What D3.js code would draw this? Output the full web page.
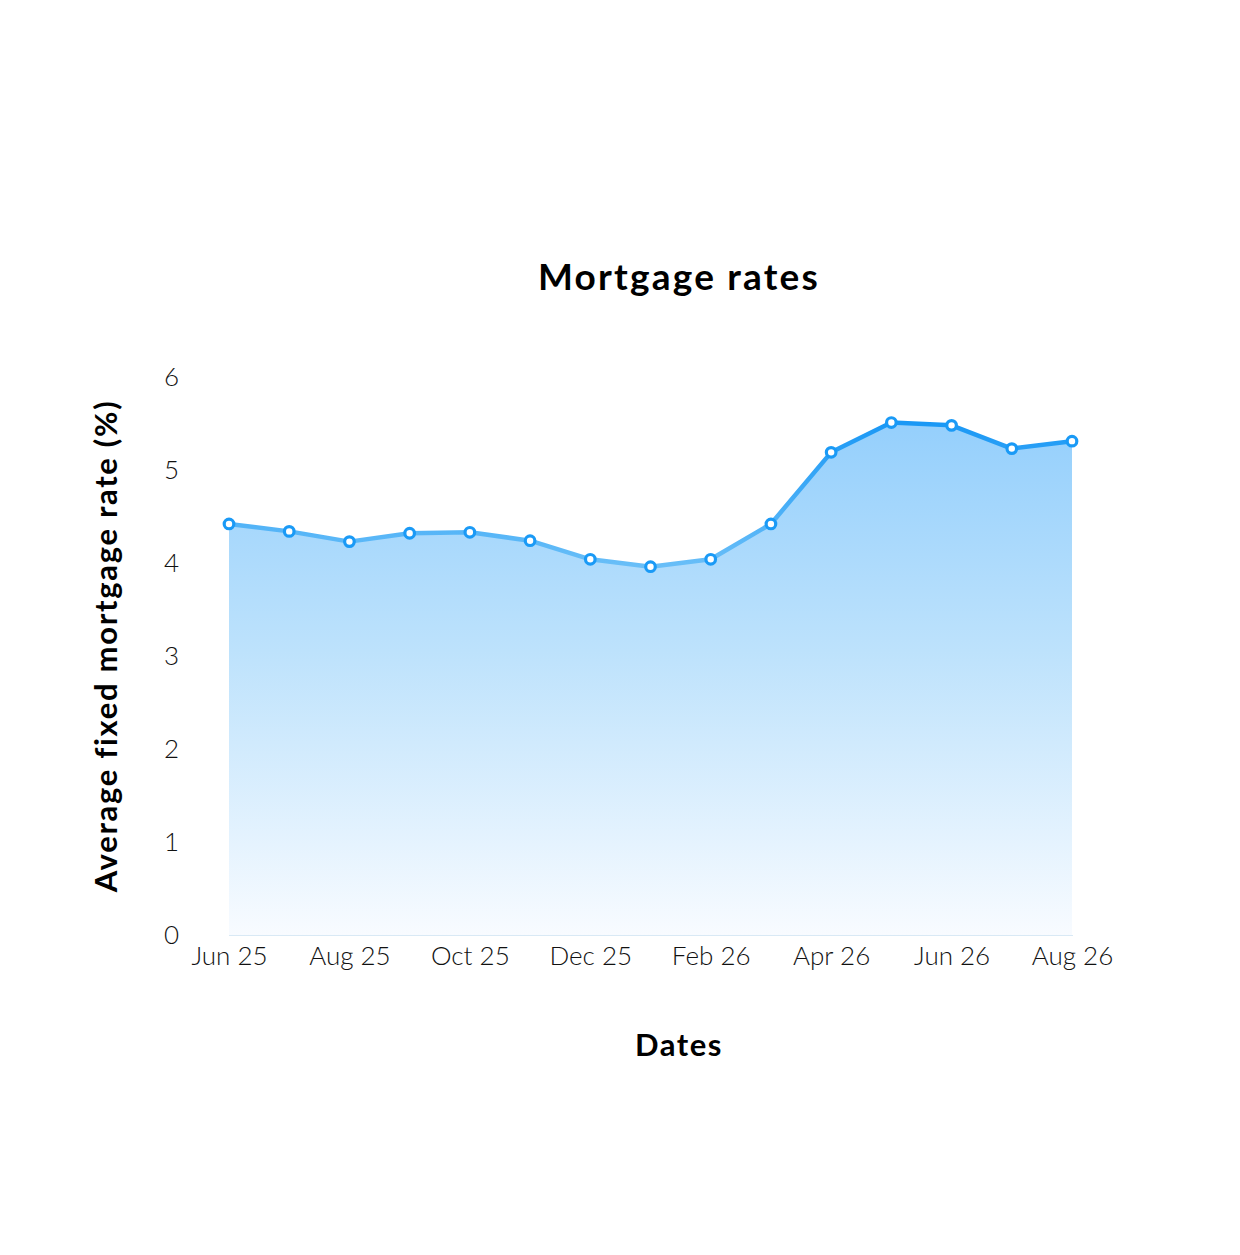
<!DOCTYPE html>
<html>
<head>
<meta charset="utf-8">
<script src="https://cdn.jsdelivr.net/npm/d3@7"></script>
<style>
    body { margin: 0; background: #fff; }
    .tick text { font-family: Lato, "Open Sans", sans-serif; font-weight: 300; fill: #111; }
</style>
</head>
<body>
<script>
//chart data
var months = ["Jun 25", "Jul 25", "Aug 25", "Sep 25", "Oct 25", "Nov 25", "Dec 25",
    "Jan 26", "Feb 26", "Mar 26", "Apr 26", "May 26", "Jun 26", "Jul 26", "Aug 26"];
var rates = [4.42, 4.34, 4.23, 4.32, 4.33, 4.24, 4.04, 3.96, 4.04, 4.42, 5.19, 5.51, 5.48, 5.23, 5.31];
var xTickLabels = ["Jun 25", "Aug 25", "Oct 25", "Dec 25", "Feb 26", "Apr 26", "Jun 26", "Aug 26"];
var yTickValues = [0, 1, 2, 3, 4, 5, 6];

window.onload = drawChart();

function drawChart(){
    var width = 1240,
        height = 1255;

    var svg = d3.select("body")
        .append("svg")
        .attr("width", width)
        .attr("height", height);

    var data = months.map(function(m, i){ return {month: m, rate: rates[i]}; });

    //scales
    var x = d3.scalePoint()
        .domain(months)
        .range([229, 1072]);

    var y = d3.scaleLinear()
        .domain([0, 6])
        .range([935, 377]);

    //gradients
    var defs = svg.append("defs");
    var areaGrad = defs.append("linearGradient")
        .attr("id", "areaGrad")
        .attr("gradientUnits", "userSpaceOnUse")
        .attr("x1", 0).attr("x2", 0)
        .attr("y1", y(5.55)).attr("y2", y(0));
    areaGrad.append("stop").attr("offset", "0%").attr("stop-color", "#94cffc");
    areaGrad.append("stop").attr("offset", "45%").attr("stop-color", "#bde2fc");
    areaGrad.append("stop").attr("offset", "100%").attr("stop-color", "#f8fbff");

    var lineGrad = defs.append("linearGradient")
        .attr("id", "lineGrad")
        .attr("gradientUnits", "userSpaceOnUse")
        .attr("x1", 0).attr("x2", 0)
        .attr("y1", y(5.55)).attr("y2", y(3.9));
    lineGrad.append("stop").attr("offset", "0%").attr("stop-color", "#1897f5");
    lineGrad.append("stop").attr("offset", "100%").attr("stop-color", "#6cc0f8");

    //area under line
    var area = d3.area()
        .x(function(d){ return x(d.month); })
        .y0(y(0))
        .y1(function(d){ return y(d.rate); });

    svg.append("path")
        .datum(data)
        .attr("class", "area")
        .attr("fill", "url(#areaGrad)")
        .attr("d", area);

    //baseline
    svg.append("line")
        .attr("x1", x(months[0]))
        .attr("x2", x(months[months.length - 1]) + 1)
        .attr("y1", y(0) + 0.5)
        .attr("y2", y(0) + 0.5)
        .attr("stroke", "#d9e9f5")
        .attr("stroke-width", 1.2);

    //line
    var line = d3.line()
        .x(function(d){ return x(d.month); })
        .y(function(d){ return y(d.rate); });

    svg.append("path")
        .datum(data)
        .attr("class", "line")
        .attr("fill", "none")
        .attr("stroke", "url(#lineGrad)")
        .attr("stroke-width", 4.5)
        .attr("stroke-linejoin", "round")
        .attr("d", line);

    //markers
    svg.selectAll(".dot")
        .data(data)
        .enter()
        .append("circle")
        .attr("class", "dot")
        .attr("cx", function(d){ return x(d.month); })
        .attr("cy", function(d){ return y(d.rate); })
        .attr("r", 4.8)
        .attr("fill", "#fff")
        .attr("stroke", "#1a9af6")
        .attr("stroke-width", 3.2);

    //x axis
    var xAxis = svg.append("g")
        .attr("transform", "translate(0," + y(0) + ")")
        .call(d3.axisBottom(x).tickValues(xTickLabels).tickSize(0).tickPadding(12));
    xAxis.select(".domain").remove();
    xAxis.selectAll("text").style("font-size", "26px");

    //y axis
    var yAxis = svg.append("g")
        .attr("transform", "translate(179,0)")
        .call(d3.axisLeft(y).tickValues(yTickValues).tickFormat(d3.format("d")).tickSize(0).tickPadding(0));
    yAxis.select(".domain").remove();
    yAxis.selectAll("text").style("font-size", "26px");

    //titles
    svg.append("text")
        .attr("x", 679)
        .attr("y", 290)
        .attr("text-anchor", "middle")
        .style("font-family", "Lato, sans-serif")
        .style("font-weight", 700)
        .style("font-size", "37px")
        .style("letter-spacing", "2.2px")
        .style("fill", "#000")
        .text("Mortgage rates");

    svg.append("text")
        .attr("x", 679)
        .attr("y", 1056)
        .attr("text-anchor", "middle")
        .style("font-family", "Lato, sans-serif")
        .style("font-weight", 700)
        .style("font-size", "31px")
        .style("letter-spacing", "1.5px")
        .style("fill", "#000")
        .text("Dates");

    svg.append("text")
        .attr("transform", "translate(117,646) rotate(-90)")
        .attr("text-anchor", "middle")
        .style("font-family", "Lato, sans-serif")
        .style("font-weight", 700)
        .style("font-size", "31px")
        .style("letter-spacing", "1.7px")
        .style("fill", "#000")
        .text("Average fixed mortgage rate (%)");
}
</script>
</body>
</html>
